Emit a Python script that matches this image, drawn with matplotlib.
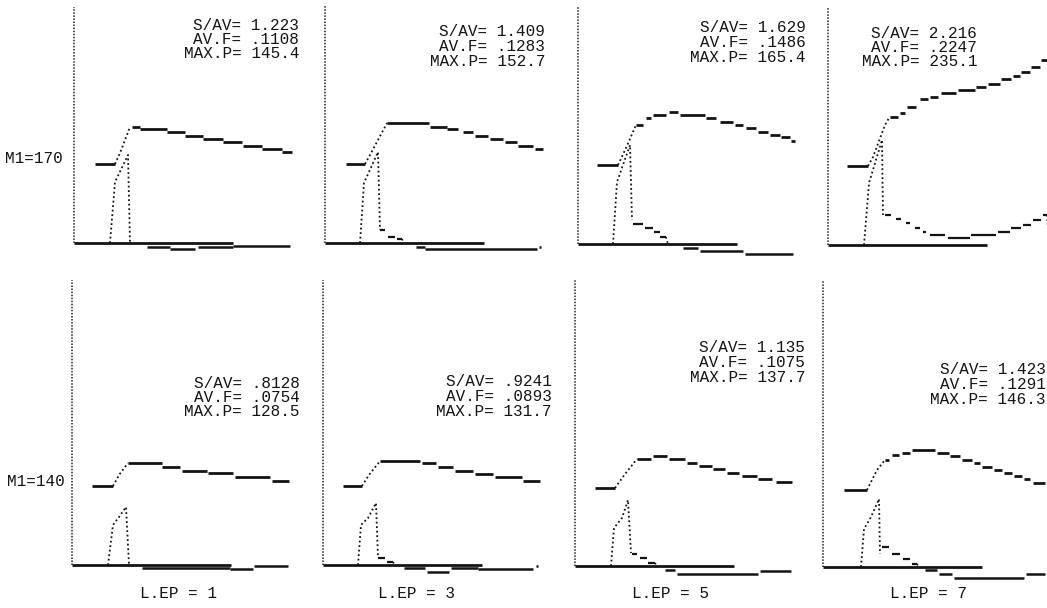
import matplotlib
matplotlib.use("Agg")
import matplotlib.pyplot as plt

# ---- data (x: time units, y: pressure units above the zero line) ----
# steps: (x_start, x_end, value)   rise / pulse: (x, value) points
A_steps = [(21, 41, 79), (58, 66, 116), (66, 93, 114), (93, 111, 111), (111, 129, 107), (129, 149, 104),
           (149, 168, 101), (169, 188, 97), (188, 208, 94), (208, 218, 91)]
A_rise = [(41, 79), (46, 90), (56, 116)]
A_pulse = [(36, 0), (41, 61), (54, 88), (56, 0)]
A_tail = []
A_low = [(73, 96, -4), (96, 121, -6), (124, 159, -4), (159, 216, -3)]

B_steps = [(21, 40, 79), (62, 104, 120), (105, 122, 116), (122, 133, 114), (138, 148, 111), (150, 163, 107),
           (165, 178, 104), (180, 192, 101), (193, 208, 97), (210, 218, 94)]
B_rise = [(40, 79), (45, 88), (62, 120)]
B_pulse = [(35, 0), (39, 60), (53, 91), (55, 13)]
B_tail = [(55, 60, 13), (63, 70, 6), (72, 77, 4)]
B_low = [(91, 100, -4), (100, 212, -6), (214, 216, -4)]

C_steps = [(19, 40, 79), (58, 65, 119), (68, 73, 126), (75, 88, 129), (91, 100, 132), (102, 127, 129),
           (128, 138, 126), (142, 155, 122), (157, 165, 119), (168, 178, 116), (180, 190, 112),
           (192, 202, 109), (203, 212, 107), (213, 217, 103)]
C_rise = [(40, 79), (48, 96), (58, 119)]
C_pulse = [(35, 0), (39, 62), (52, 99), (54, 24)]
C_tail = [(55, 65, 20), (67, 75, 16), (76, 82, 12), (82, 88, 7)]
C_low = [(105, 120, -4), (122, 165, -7), (167, 215, -10)]

D_steps = [(19, 40, 79), (62, 70, 128), (72, 77, 132), (79, 88, 138), (92, 100, 146), (102, 110, 148),
           (113, 128, 152), (130, 147, 155), (148, 158, 158), (160, 172, 161), (173, 183, 166),
           (185, 192, 169), (193, 202, 173), (203, 212, 178), (213, 219, 185)]
D_rise = [(40, 79), (45, 88), (57, 120), (61, 127)]
D_pulse = [(36, 0), (41, 62), (54, 105), (55, 30)]
D_tail = [(57, 63, 30), (68, 73, 26), (78, 82, 22), (87, 92, 17), (95, 98, 13), (102, 117, 10),
          (120, 142, 7), (143, 168, 10), (170, 182, 13), (183, 193, 17), (195, 203, 20),
          (205, 213, 25), (215, 219, 30)]
D_low = []

E_steps = [(20, 41, 79), (56, 90, 102), (90, 108, 98), (110, 135, 94), (136, 161, 92), (163, 198, 88),
           (200, 217, 84)]
E_rise = [(41, 79), (47, 90), (56, 102)]
E_pulse = [(36, 0), (41, 40), (47, 48), (54, 58), (57, 0)]
E_tail = []
E_low = [(70, 158, -3), (158, 181, -4), (182, 216, -0.5)]

F_steps = [(20, 39, 79), (57, 97, 104), (99, 113, 102), (115, 130, 98), (132, 150, 94), (152, 170, 91),
           (172, 199, 88), (200, 217, 84)]
F_rise = [(39, 79), (46, 90), (57, 104)]
F_pulse = [(35, 0), (38, 40), (45, 47), (53, 62), (55, 7)]
F_tail = [(55, 62, 7), (64, 70, 3)]
F_low = [(81, 102, -3), (104, 126, -7), (128, 155, -3), (155, 210, -4), (213, 215, -1)]

G_steps = [(20, 40, 78), (62, 76, 107), (78, 92, 110), (94, 110, 107), (112, 122, 103), (124, 137, 100),
           (138, 150, 97), (152, 164, 93), (167, 182, 90), (183, 197, 87), (201, 217, 84)]
G_rise = [(40, 78), (50, 92), (62, 107)]
G_pulse = [(36, 0), (39, 38), (47, 48), (53, 66), (56, 13)]
G_tail = [(57, 62, 12), (65, 72, 8), (73, 80, 3)]
G_low = [(90, 100, -4), (102, 183, -8), (185, 216, -5)]

H_steps = [(21, 44, 77), (62, 66, 107), (69, 76, 112), (79, 87, 114), (89, 112, 117), (114, 126, 114),
           (127, 137, 111), (139, 149, 107), (151, 157, 104), (159, 169, 100), (171, 179, 97),
           (181, 189, 94), (191, 199, 91), (201, 207, 88), (210, 222, 84)]
H_rise = [(44, 77), (54, 97), (62, 107)]
H_pulse = [(38, 0), (41, 38), (48, 50), (56, 68), (57, 13)]
H_tail = [(59, 66, 20), (69, 77, 13), (80, 87, 8), (89, 94, 3)]
H_low = [(102, 114, -3), (116, 129, -7), (131, 201, -11), (203, 222, -7)]

stats_sav = ["1.223", "1.409", "1.629", "2.216", ".8128", ".9241", "1.135", "1.423"]
stats_avf = [".1108", ".1283", ".1486", ".2247", ".0754", ".0893", ".1075", ".1291"]
stats_maxp = ["145.4", "152.7", "165.4", "235.1", "128.5", "131.7", "137.7", "146.3"]
row_labels = ["M1=170", "M1=140"]
col_labels = ["L.EP = 1", "L.EP = 3", "L.EP = 5", "L.EP = 7"]
axis_len = 159

# ---- layout (pixels) ----
W, H = 1047, 608
INK = "#141414"
FONT = "Liberation Mono"
panels = [
    (A_steps, A_rise, A_pulse, A_tail, A_low),
    (B_steps, B_rise, B_pulse, B_tail, B_low),
    (C_steps, C_rise, C_pulse, C_tail, C_low),
    (D_steps, D_rise, D_pulse, D_tail, D_low),
    (E_steps, E_rise, E_pulse, E_tail, E_low),
    (F_steps, F_rise, F_pulse, F_tail, F_low),
    (G_steps, G_rise, G_pulse, G_tail, G_low),
    (H_steps, H_rise, H_pulse, H_tail, H_low),
]
origins = [(74, 243, 7), (325, 243, 5), (578, 244, 7), (828, 245, 7),
           (72, 565, 280), (323, 565, 280), (575, 566, 280), (823, 567, 280)]
text_pos = [(299, 25), (545, 32), (806, 28), (977, 33),
            (300, 383), (552, 382), (805, 348), (1046, 370)]

fig = plt.figure(figsize=(W / 100, H / 100), dpi=100)
fig.patch.set_facecolor("white")

for i, (steps, rise, pulse, tail, low) in enumerate(panels):
    x0, y0, top = origins[i]
    left, right = x0 - 3, x0 + 226
    ax = fig.add_axes([left / W, 1 - (y0 + 18) / H, (right - left) / W, (y0 + 18 - top) / H])
    ax.set_xlim(-3, 226)
    ax.set_ylim(-18, y0 - top)
    ax.axis("off")

    # axes drawn like the plotter did
    ax.plot([0, 0], [0, y0 - top], color="#222222", lw=1.1, ls=(0, (1, 1)), clip_on=False)
    ax.plot([0, axis_len], [0, 0], color=INK, lw=2.0, solid_capstyle="butt", clip_on=False)

    # pressure curve
    for xa, xb, v in steps:
        ax.plot([xa, xb], [v, v], color=INK, lw=2.0, solid_capstyle="butt", clip_on=False)
    ax.plot([p[0] for p in rise], [p[1] for p in rise], color=INK, lw=1.3, ls=(0, (1, 1.5)), clip_on=False)

    # pulse curve
    ax.plot([p[0] for p in pulse], [p[1] for p in pulse], color=INK, lw=1.3, ls=(0, (1, 1.5)), clip_on=False)
    for xa, xb, v in tail:
        ax.plot([xa, xb], [v, v], color=INK, lw=1.6, solid_capstyle="butt", clip_on=False)
    if tail:
        ax.plot([tail[-1][1], tail[-1][1] + 2], [tail[-1][2], 0], color=INK, lw=1.2, ls=":", clip_on=False)

    # lower curve
    for xa, xb, v in low:
        ax.plot([xa, xb], [v, v], color=INK, lw=1.8, solid_capstyle="butt", clip_on=False)

    tx, ty = text_pos[i]
    lines = ["S/AV= " + stats_sav[i], "AV.F= " + stats_avf[i], "MAX.P= " + stats_maxp[i]]
    for k, s in enumerate(lines):
        fig.text(tx / W, 1 - (ty + k * 14.5) / H, s, ha="right", va="center",
                 family=FONT, fontsize=11.5, color=INK)

fig.text(5 / W, 1 - 158 / H, row_labels[0], ha="left", va="center", family=FONT, fontsize=11.5, color=INK)
fig.text(7 / W, 1 - 482 / H, row_labels[1], ha="left", va="center", family=FONT, fontsize=11.5, color=INK)
for j, cx in enumerate([179, 417, 671, 929]):
    fig.text(cx / W, 1 - 593 / H, col_labels[j], ha="center", va="center", family=FONT, fontsize=11.5, color=INK)

fig.savefig("out.png", dpi=100, facecolor="white")
